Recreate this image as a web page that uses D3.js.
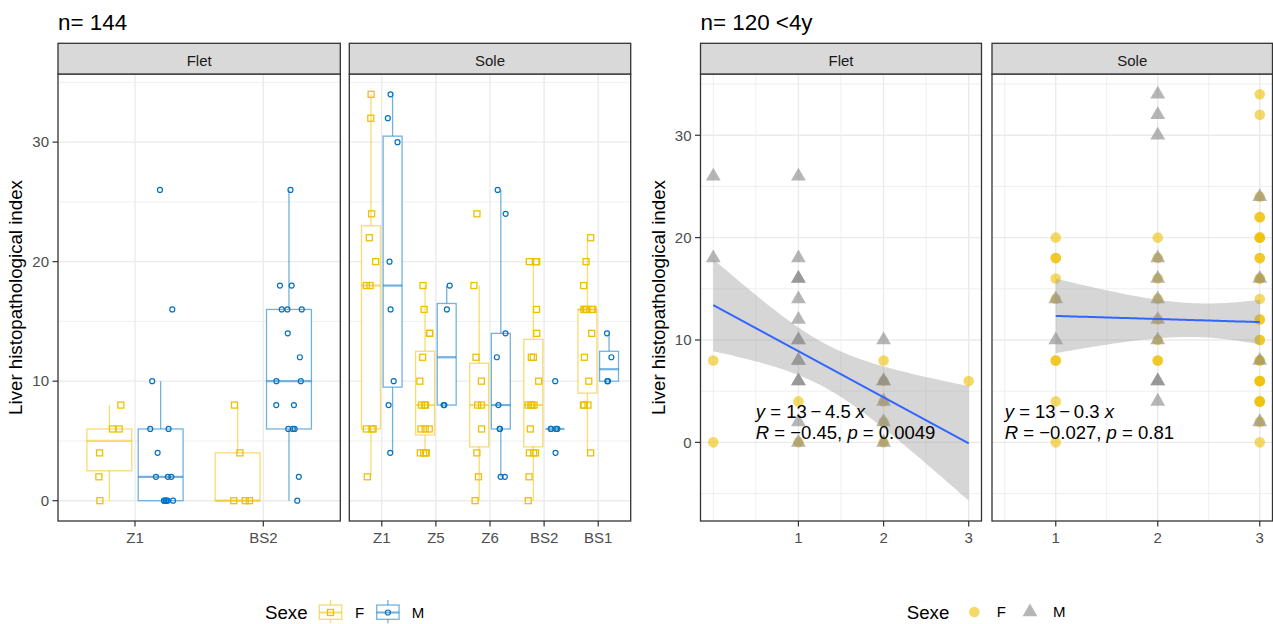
<!DOCTYPE html>
<html>
<head>
<meta charset="utf-8">
<script src="https://cdn.jsdelivr.net/npm/d3@7"></script>
<style>
  body { margin: 0; background: #fff; }
  svg { display: block; font-family: "Liberation Sans", Arial, sans-serif; }
</style>
</head>
<body>
<svg id="chart" width="1273" height="624"></svg>
<script>
// ---------- data ----------
const fletZones = ["Z1", "BS2"];
const soleZones = ["Z1", "Z5", "Z6", "BS2", "BS1"];
const sexes = ["F", "M"];
const indexTicks = [0, 10, 20, 30];
const ageTicks = [1, 2, 3];

// Liver histopathological index per species / zone / sex (all ages)
const fletZ1F  = [0, 2, 4, 6, 6, 8];
const fletZ1M  = [0, 0, 0, 0, 0, 0, 2, 2, 2, 4, 6, 6, 10, 16, 26];
const fletBS2F = [0, 0, 0, 4, 8];
const fletBS2M = [0, 2, 6, 6, 6, 8, 8, 10, 10, 12, 14, 16, 16, 16, 18, 18, 26];
const soleZ1F  = [2, 6, 6, 6, 18, 18, 20, 22, 24, 32, 34];
const soleZ1M  = [4, 8, 10, 16, 20, 30, 32, 34];
const soleZ5F  = [4, 4, 4, 4, 6, 6, 6, 8, 8, 8, 10, 12, 14, 14, 16, 18];
const soleZ5M  = [8, 8, 16, 18];
const soleZ6F  = [0, 2, 4, 6, 8, 8, 10, 12, 18, 24];
const soleZ6M  = [2, 2, 6, 6, 8, 12, 14, 24, 26];
const soleBS2F = [0, 2, 4, 4, 4, 6, 8, 8, 8, 8, 10, 12, 12, 14, 16, 20, 20, 20];
const soleBS2M = [4, 6, 6, 6, 6, 10];
const soleBS1F = [4, 8, 8, 8, 10, 12, 14, 16, 16, 16, 16, 16, 18, 20, 22];
const soleBS1M = [10, 10, 12, 14];

// Fish younger than 4 years: age vs index
const fletAgeF   = [0, 0, 1, 1, 2, 2, 2, 2, 2, 3];
const fletIndexF = [8, 0, 4, 0, 8, 6, 4, 2, 0, 6];
const fletAgeM   = [0, 0, 1, 1, 1, 1, 1, 1, 1, 1, 1, 1, 1, 1, 1, 1, 2, 2, 2, 2, 2, 2];
const fletIndexM = [26, 18, 26, 18, 16, 16, 14, 12, 10, 10, 8, 8, 6, 6, 2, 0, 10, 6, 6, 4, 2, 0];
const soleAgeF   = [1, 1, 1, 1, 1, 1, 1, 1, 1,
                    2, 2, 2, 2, 2, 2, 2, 2,
                    3, 3, 3, 3, 3, 3, 3, 3, 3, 3, 3, 3, 3, 3, 3, 3, 3, 3, 3, 3, 3, 3, 3, 3, 3, 3, 3];
const soleIndexF = [20, 18, 18, 16, 14, 8, 8, 4, 0,
                    20, 18, 16, 14, 12, 10, 8, 8,
                    34, 32, 24, 22, 22, 20, 20, 20, 18, 18, 16, 16, 14, 12, 12, 10, 10, 8, 8, 6, 6, 6, 4, 4, 4, 2, 0];
const soleAgeM   = [1, 1, 2, 2, 2, 2, 2, 2, 2, 2, 2, 2, 2, 3, 3, 3, 3];
const soleIndexM = [14, 10, 34, 32, 30, 18, 16, 14, 12, 10, 6, 6, 4, 24, 16, 8, 2];

// Linear fits (Flet, Sole) and their confidence band parameters
const fitSpecies   = ["Flet", "Sole"];
const fitIntercept = [13.4, 12.65];
const fitSlope     = [-4.5, -0.30];
const fitR         = [-0.45, -0.027];
const fitP         = [0.0049, 0.81];
const bandMeanAge  = [1.3, 2.39];
const bandMinHalf  = [2.14, 1.65];
const bandSpread   = [9.26, 5.45];
const labelAge = 0.5;
const labelEqIndex = 3;
const labelCorIndex = 1;

// ---------- setup ----------
const svg = d3.select("#chart");
const boxColour = { F: "#EFC000", M: "#0073C2" };
const dotColour = { F: "#EFC000", M: "#868686" };
const stripTop = 43.3, panelTop = 74, panelBottom = 521;
const gridCol = "#EBEBEB", frameCol = "#333333", tickTextCol = "#4D4D4D";

function minorBreaks(majors, domain) {
  const bd = majors[1] - majors[0];
  const b = [majors[0] - bd, ...majors, majors[majors.length - 1] + bd];
  const out = [b[0], b[b.length - 1]];
  for (let i = 0; i < b.length - 1; i++) out.push((b[i] + b[i + 1]) / 2);
  return out.filter(v => v >= domain[0] && v <= domain[1]);
}
function padded(ext, f) {
  const p = (ext[1] - ext[0]) * f;
  return [ext[0] - p, ext[1] + p];
}
function strip(x0, x1, name) {
  svg.append("rect").attr("x", x0).attr("y", stripTop).attr("width", x1 - x0).attr("height", panelTop - stripTop)
    .attr("fill", "#D9D9D9").attr("stroke", frameCol).attr("stroke-width", 1.3);
  svg.append("text").attr("x", (x0 + x1) / 2).attr("y", (stripTop + panelTop) / 2 + 7)
    .attr("text-anchor", "middle").attr("font-size", 15).attr("fill", "#1A1A1A").text(name);
}
function frame(x0, x1) {
  svg.append("rect").attr("x", x0).attr("y", panelTop).attr("width", x1 - x0).attr("height", panelBottom - panelTop)
    .attr("fill", "none").attr("stroke", frameCol).attr("stroke-width", 1.3);
}
function hGrid(x0, x1, y, vals, w) {
  vals.forEach(v => svg.append("line").attr("x1", x0).attr("x2", x1).attr("y1", y(v)).attr("y2", y(v))
    .attr("stroke", gridCol).attr("stroke-width", w));
}
function vGrid(xs, vals, w) {
  vals.forEach(v => svg.append("line").attr("x1", xs(v)).attr("x2", xs(v)).attr("y1", panelTop).attr("y2", panelBottom)
    .attr("stroke", gridCol).attr("stroke-width", w));
}
function yAxis(x0, y) {
  indexTicks.forEach(t => {
    svg.append("line").attr("x1", x0 - 5.5).attr("x2", x0).attr("y1", y(t)).attr("y2", y(t))
      .attr("stroke", frameCol).attr("stroke-width", 1.2);
    svg.append("text").attr("x", x0 - 9).attr("y", y(t) + 5.3).attr("text-anchor", "end")
      .attr("font-size", 15).attr("fill", tickTextCol).text(t);
  });
}
function xTick(x, label) {
  svg.append("line").attr("x1", x).attr("x2", x).attr("y1", panelBottom).attr("y2", panelBottom + 5.5)
    .attr("stroke", frameCol).attr("stroke-width", 1.2);
  svg.append("text").attr("x", x).attr("y", 543).attr("text-anchor", "middle")
    .attr("font-size", 15).attr("fill", tickTextCol).text(label);
}
function yTitle(x) {
  svg.append("text").attr("transform", `translate(${x},${(panelTop + panelBottom) / 2}) rotate(-90)`)
    .attr("text-anchor", "middle").attr("font-size", 18.7).attr("fill", "#000")
    .text("Liver histopathological index");
}
function title(x, txt) {
  svg.append("text").attr("x", x).attr("y", 30).attr("font-size", 22.4).attr("fill", "#000").text(txt);
}

// ---------- left: boxplots by zone ----------
const leftData = {
  Flet: { Z1: { F: fletZ1F, M: fletZ1M }, BS2: { F: fletBS2F, M: fletBS2M } },
  Sole: { Z1: { F: soleZ1F, M: soleZ1M }, Z5: { F: soleZ5F, M: soleZ5M }, Z6: { F: soleZ6F, M: soleZ6M },
          BS2: { F: soleBS2F, M: soleBS2M }, BS1: { F: soleBS1F, M: soleBS1M } }
};
const leftPanels = [
  { name: "Flet", zones: fletZones, x0: 58, x1: 340.3 },
  { name: "Sole", zones: soleZones, x0: 349.3, x1: 630.7 }
];
const leftAll = [fletZ1F, fletZ1M, fletBS2F, fletBS2M, soleZ1F, soleZ1M, soleZ5F, soleZ5M,
                 soleZ6F, soleZ6M, soleBS2F, soleBS2M, soleBS1F, soleBS1M].flat();
const yLdom = padded(d3.extent(leftAll), 0.05);
const yL = d3.scaleLinear().domain(yLdom).range([panelBottom, panelTop]);
const jitter = d3.randomUniform.source(d3.randomLcg(0.2718))(-0.1, 0.1);

title(58, "n= 144");
yTitle(22);

leftPanels.forEach((p, pi) => {
  const xs = d3.scalePoint().domain(p.zones).range([p.x0, p.x1]).padding(0.6);
  const step = xs.step();
  hGrid(p.x0, p.x1, yL, minorBreaks(indexTicks, yLdom), 0.8);
  hGrid(p.x0, p.x1, yL, indexTicks, 1.4);
  vGrid(xs, p.zones, 1.4);

  // boxes
  p.zones.forEach(z => sexes.forEach(s => {
    const v = leftData[p.name][z][s].slice().sort(d3.ascending);
    const q1 = d3.quantile(v, 0.25), med = d3.quantile(v, 0.5), q3 = d3.quantile(v, 0.75);
    const iqr = q3 - q1;
    const lo = d3.min(v.filter(d => d >= q1 - 1.5 * iqr));
    const hi = d3.max(v.filter(d => d <= q3 + 1.5 * iqr));
    const cx = xs(z) + (s === "F" ? -0.2 : 0.2) * step;
    const hw = 0.175 * step;
    const g = svg.append("g").attr("stroke", boxColour[s]).attr("stroke-opacity", 0.55);
    g.append("line").attr("x1", cx).attr("x2", cx).attr("y1", yL(hi)).attr("y2", yL(q3)).attr("stroke-width", 1.3);
    g.append("line").attr("x1", cx).attr("x2", cx).attr("y1", yL(q1)).attr("y2", yL(lo)).attr("stroke-width", 1.3);
    g.append("rect").attr("x", cx - hw).attr("y", yL(q3)).attr("width", 2 * hw)
      .attr("height", Math.max(0, yL(q1) - yL(q3))).attr("fill", "#fff").attr("stroke-width", 1.3);
    g.append("line").attr("x1", cx - hw).attr("x2", cx + hw).attr("y1", yL(med)).attr("y2", yL(med)).attr("stroke-width", 2.2);
  }));

  // jittered points
  p.zones.forEach(z => sexes.forEach(s => {
    const cx0 = xs(z) + (s === "F" ? -0.2 : 0.2) * step;
    leftData[p.name][z][s].forEach(val => {
      const cx = cx0 + jitter() * step, cy = yL(val);
      if (s === "F") {
        svg.append("rect").attr("x", cx - 3).attr("y", cy - 3).attr("width", 6).attr("height", 6)
          .attr("fill", "none").attr("stroke", boxColour.F).attr("stroke-width", 1.3);
      } else {
        svg.append("circle").attr("cx", cx).attr("cy", cy).attr("r", 2.5)
          .attr("fill", "none").attr("stroke", boxColour.M).attr("stroke-width", 1.2);
      }
    });
  }));

  frame(p.x0, p.x1);
  strip(p.x0, p.x1, p.name);
  p.zones.forEach(z => xTick(xs(z), z));
  if (pi === 0) yAxis(p.x0, yL);
});

// left legend
(function () {
  const cy = 612.5;
  svg.append("text").attr("x", 265).attr("y", cy + 6.5).attr("font-size", 18.7).text("Sexe");
  [["F", 319.3, 355], ["M", 376.7, 411.7]].forEach(([s, kx, tx]) => {
    const cx = kx + 11.2;
    const g = svg.append("g").attr("stroke", boxColour[s]).attr("stroke-opacity", 0.55).attr("stroke-width", 1.3);
    g.append("line").attr("x1", cx).attr("x2", cx).attr("y1", 600).attr("y2", 623.3);
    g.append("rect").attr("x", kx).attr("y", 605).attr("width", 22.4).attr("height", 14.3).attr("fill", "#fff");
    g.append("line").attr("x1", kx).attr("x2", kx + 22.4).attr("y1", cy).attr("y2", cy).attr("stroke-width", 2);
    if (s === "F") {
      svg.append("rect").attr("x", cx - 3).attr("y", cy - 3).attr("width", 6).attr("height", 6)
        .attr("fill", "none").attr("stroke", boxColour.F).attr("stroke-width", 1.3);
    } else {
      svg.append("circle").attr("cx", cx).attr("cy", cy).attr("r", 2.5)
        .attr("fill", "none").attr("stroke", boxColour.M).attr("stroke-width", 1.2);
    }
    svg.append("text").attr("x", tx).attr("y", cy + 5.3).attr("font-size", 15).text(s);
  });
})();

// ---------- right: index vs age with linear fit ----------
const rightPanels = [
  { name: "Flet", x0: 700.5, x1: 981.5, F: [fletAgeF, fletIndexF], M: [fletAgeM, fletIndexM] },
  { name: "Sole", x0: 992, x1: 1272.5, F: [soleAgeF, soleIndexF], M: [soleAgeM, soleIndexM] }
];
function fitAt(i, a) { return fitIntercept[i] + fitSlope[i] * a; }
function halfAt(i, a) { return Math.sqrt(bandMinHalf[i] ** 2 + bandSpread[i] * (a - bandMeanAge[i]) ** 2); }

rightPanels.forEach((p, i) => {
  p.ages = p.F[0].concat(p.M[0]);
  p.ageExt = d3.extent(p.ages);
  p.band = d3.range(80).map(k => {
    const a = p.ageExt[0] + (p.ageExt[1] - p.ageExt[0]) * k / 79;
    return { a, fit: fitAt(i, a), lo: fitAt(i, a) - halfAt(i, a), hi: fitAt(i, a) + halfAt(i, a) };
  });
});
const rightY = rightPanels.flatMap(p => p.F[1].concat(p.M[1], p.band.map(b => b.lo), p.band.map(b => b.hi)));
const yRdom = padded(d3.extent(rightY), 0.05);
const yR = d3.scaleLinear().domain(yRdom).range([panelBottom, panelTop]);

title(700.5, "n= 120 <4y");
yTitle(665);

const fmt = d3.format(".2~r");
const minus = "\u2212";

rightPanels.forEach((p, i) => {
  const xdom = padded(d3.extent(p.ages.concat([labelAge])), 0.05);
  const xs = d3.scaleLinear().domain(xdom).range([p.x0, p.x1]);
  hGrid(p.x0, p.x1, yR, minorBreaks(indexTicks, yRdom), 0.8);
  vGrid(xs, minorBreaks(ageTicks, xdom), 0.8);
  hGrid(p.x0, p.x1, yR, indexTicks, 1.4);
  vGrid(xs, ageTicks, 1.4);

  // points: females first, then males on top
  p.F[0].forEach((a, k) => svg.append("circle").attr("cx", xs(a)).attr("cy", yR(p.F[1][k])).attr("r", 5.3)
    .attr("fill", dotColour.F).attr("fill-opacity", 0.6));
  const tri = d3.symbol().type(d3.symbolTriangle).size(95);
  p.M[0].forEach((a, k) => svg.append("path").attr("d", tri)
    .attr("transform", `translate(${xs(a)},${yR(p.M[1][k])})`)
    .attr("fill", dotColour.M).attr("fill-opacity", 0.6));

  // confidence band and fitted line
  svg.append("path").datum(p.band)
    .attr("d", d3.area().x(d => xs(d.a)).y0(d => yR(d.lo)).y1(d => yR(d.hi)))
    .attr("fill", "#999999").attr("fill-opacity", 0.4);
  svg.append("path").datum(p.band)
    .attr("d", d3.line().x(d => xs(d.a)).y(d => yR(d.fit)))
    .attr("fill", "none").attr("stroke", "#3366FF").attr("stroke-width", 2);

  // equation and correlation labels
  const sign = fitSlope[i] < 0 ? minus : "+";
  const eq = svg.append("text").attr("x", xs(labelAge)).attr("y", yR(labelEqIndex) + 6.6).attr("font-size", 18.5);
  eq.append("tspan").attr("font-style", "italic").text("y");
  eq.append("tspan").text(` = ${fmt(fitIntercept[i])}\u2009${sign}\u2009${fmt(Math.abs(fitSlope[i]))} `);
  eq.append("tspan").attr("font-style", "italic").text("x");
  const cor = svg.append("text").attr("x", xs(labelAge)).attr("y", yR(labelCorIndex) + 6.6).attr("font-size", 18.5);
  cor.append("tspan").attr("font-style", "italic").text("R");
  cor.append("tspan").text(` = ${fitR[i] < 0 ? minus : ""}${fmt(Math.abs(fitR[i]))}, `);
  cor.append("tspan").attr("font-style", "italic").text("p");
  cor.append("tspan").text(` = ${fmt(fitP[i])}`);

  frame(p.x0, p.x1);
  strip(p.x0, p.x1, fitSpecies[i]);
  ageTicks.forEach(t => xTick(xs(t), t));
  if (i === 0) yAxis(p.x0, yR);
});

// right legend
(function () {
  const cy = 612;
  svg.append("text").attr("x", 906.7).attr("y", cy + 6.5).attr("font-size", 18.7).text("Sexe");
  svg.append("circle").attr("cx", 974.3).attr("cy", cy).attr("r", 5.3).attr("fill", dotColour.F).attr("fill-opacity", 0.6);
  svg.append("text").attr("x", 996.7).attr("y", cy + 5.3).attr("font-size", 15).text("F");
  svg.append("path").attr("d", d3.symbol().type(d3.symbolTriangle).size(95))
    .attr("transform", `translate(1030,${cy})`).attr("fill", dotColour.M).attr("fill-opacity", 0.6);
  svg.append("text").attr("x", 1053).attr("y", cy + 5.3).attr("font-size", 15).text("M");
})();
</script>
</body>
</html>
